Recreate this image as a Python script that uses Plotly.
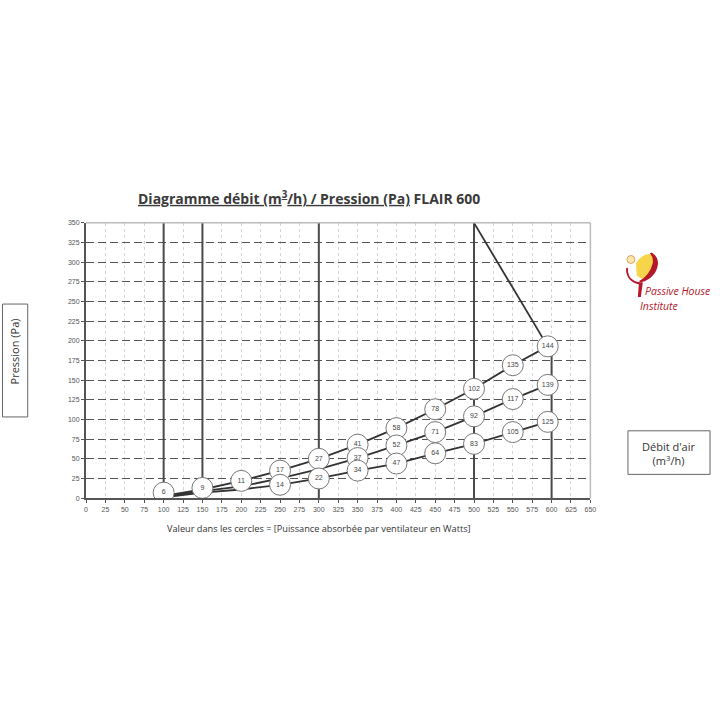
import plotly.graph_objects as go

# ---- data ----
debit = [100, 150, 200, 250, 300, 350, 400, 450, 500, 550, 595]
p_haut = [3, 11, 22, 35, 50, 68, 89, 113, 139, 169, 193]
p_milieu = [2, 9, 15, 25, 37, 51, 67, 84, 104, 126, 144]
p_bas = [1, 7, 11, 17, 25, 35, 44, 57, 69, 84, 97]

limite_x = [500, 595]
limite_y = [350, 193]

cercle_x = [100, 150, 200, 250, 250, 300, 300, 350, 350, 350, 400, 400, 400,
            450, 450, 450, 500, 500, 500, 550, 550, 550, 595, 595, 595]
cercle_y = [7, 13, 22, 35, 17, 50, 25, 68, 51, 35, 89, 67, 44,
            113, 84, 57, 139, 104, 69, 169, 126, 84, 193, 144, 97]
cercle_txt = ["6", "9", "11", "17", "14", "27", "22", "41", "37", "34", "58", "52", "47",
              "78", "71", "64", "102", "92", "83", "135", "117", "105", "144", "139", "125"]

verticales = [100, 150, 300, 500, 600]
verticales_haut = [350, 350, 350, 350, 185]

x_ticks = list(range(0, 651, 25))
y_ticks = list(range(0, 351, 25))

W = 720


def px(x):
    return x / W


def py(y):
    return 1 - y / W


fig = go.Figure()

for xv, top in zip(verticales, verticales_haut):
    fig.add_trace(go.Scatter(x=[xv, xv], y=[0, top], mode="lines",
                             line=dict(color="#4a4a4a", width=2), hoverinfo="skip"))

for ys in (p_haut, p_milieu, p_bas):
    fig.add_trace(go.Scatter(x=debit, y=ys, mode="lines",
                             line=dict(color="#333333", width=1.8)))

fig.add_trace(go.Scatter(x=limite_x, y=limite_y, mode="lines",
                         line=dict(color="#333333", width=1.8)))

fig.add_trace(go.Scatter(x=cercle_x, y=cercle_y, mode="markers+text", text=cercle_txt,
                         textposition="middle center",
                         textfont=dict(size=7, color="#444444", family="Liberation Sans"),
                         marker=dict(size=21, color="white",
                                     line=dict(color="#777777", width=1))))

fig.update_layout(
    width=720, height=720, showlegend=False,
    paper_bgcolor="white", plot_bgcolor="white",
    margin=dict(l=0, r=0, t=0, b=0),
    xaxis=dict(domain=[px(85), px(595)], range=[0, 650], tickvals=x_ticks,
               showgrid=True, gridcolor="#d4d4d4", griddash="dot", gridwidth=1,
               showline=True, linecolor="#555555", linewidth=2,
               ticks="outside", ticklen=3, tickcolor="#555555",
               tickfont=dict(size=7, color="#555555", family="Liberation Sans"),
               zeroline=False, fixedrange=True),
    yaxis=dict(domain=[py(499), py(221)], range=[0, 350], tickvals=y_ticks,
               showgrid=True, gridcolor="#555555", griddash="8px,4px", gridwidth=1,
               showline=True, linecolor="#555555", linewidth=2,
               ticks="outside", ticklen=3, tickcolor="#555555",
               tickfont=dict(size=7, color="#555555", family="Liberation Sans"),
               zeroline=False, fixedrange=True),
)

shapes = []
# light border top/right
shapes.append(dict(type="line", xref="paper", yref="paper", x0=px(85), x1=px(595),
                   y0=py(221), y1=py(221), line=dict(color="#bbbbbb", width=1.5)))
shapes.append(dict(type="line", xref="paper", yref="paper", x0=px(595), x1=px(595),
                   y0=py(221), y1=py(499), line=dict(color="#bbbbbb", width=1.5)))
# boxes
shapes.append(dict(type="rect", xref="paper", yref="paper", x0=px(0.5), x1=px(26),
                   y0=py(303), y1=py(417), line=dict(color="#666666", width=1)))
shapes.append(dict(type="rect", xref="paper", yref="paper", x0=px(633), x1=px(716),
                   y0=py(431), y1=py(475), line=dict(color="#666666", width=1)))
# logo
shapes.append(dict(type="path", xref="paper", yref="paper",
                   path=f"M {px(641)},{py(262)} Q {px(648)},{py(250)} {px(660)},{py(253)} "
                        f"Q {px(666)},{py(262)} {px(655)},{py(276)} "
                        f"Q {px(647)},{py(280)} {px(642)},{py(274)} Z",
                   fillcolor="#f7d54a", line=dict(color="#f7d54a", width=0)))
shapes.append(dict(type="path", xref="paper", yref="paper",
                   path=f"M {px(657)},{py(251)} Q {px(668)},{py(258)} {px(660)},{py(272)} "
                        f"Q {px(654)},{py(280)} {px(646)},{py(281)} "
                        f"L {px(644)},{py(280)} Q {px(655)},{py(274)} {px(658)},{py(262)} "
                        f"Q {px(659)},{py(255)} {px(655)},{py(252)} Z",
                   fillcolor="#b5172b", line=dict(color="#b5172b", width=0)))
shapes.append(dict(type="path", xref="paper", yref="paper",
                   path=f"M {px(633)},{py(266)} Q {px(632)},{py(279)} {px(645)},{py(281)} "
                        f"L {px(648)},{py(281)} L {px(646)},{py(296)} L {px(643)},{py(296)} "
                        f"L {px(644)},{py(283)} Q {px(631)},{py(280)} {px(631)},{py(267)} Z",
                   fillcolor="#b5172b", line=dict(color="#b5172b", width=0)))
shapes.append(dict(type="circle", xref="paper", yref="paper",
                   x0=px(632), x1=px(640), y0=py(254), y1=py(262),
                   fillcolor="#fbe9b0", line=dict(color="#e0a060", width=1)))
fig.update_layout(shapes=shapes)


def note(x, y, text, size, color="#333333", xanchor="center", angle=0):
    return dict(x=px(x), y=py(y), xref="paper", yref="paper", showarrow=False,
                xanchor=xanchor, yanchor="middle", text=text, textangle=angle,
                font=dict(size=size, color=color, family="Open Sans"))


ann = [
    note(310, 196, "<b><u>Diagramme débit (m<sup>3</sup>/h) / Pression (Pa)</u> FLAIR 600</b>",
         14, color="#3a3a3a"),
    note(13, 351, "Pression (Pa)", 11, angle=-90),
    note(674, 454, "Débit d'air<br>(m<sup>3</sup>/h)", 11),
    note(321, 530, "Valeur dans les cercles = [Puissance absorbée par ventilateur en Watts]", 9.2),
    note(648, 290, "<i>Passive House</i>", 10.5, color="#b5172b", xanchor="left"),
    note(643, 305, "<i>Institute</i>", 10.5, color="#b5172b", xanchor="left"),
]
fig.update_layout(annotations=ann)

fig.write_html("out.html", config={"displayModeBar": False},
               post_script="document.body.style.margin='0';document.body.style.overflow='hidden';")
